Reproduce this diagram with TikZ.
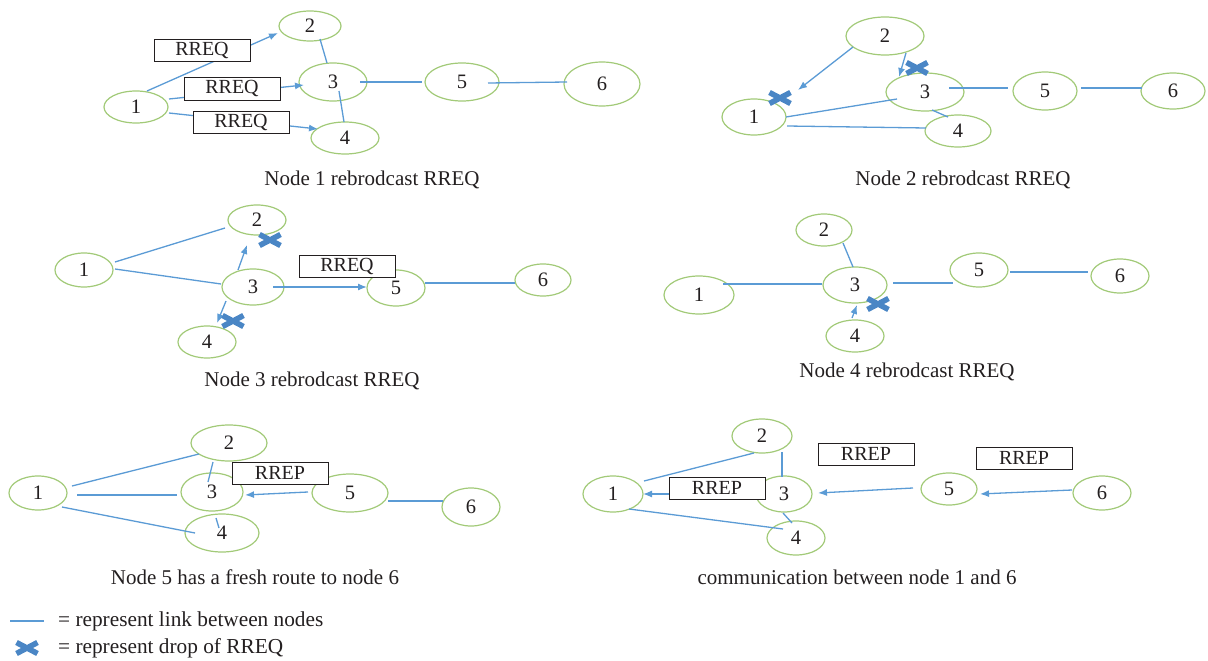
\documentclass[tikz,border=0pt]{standalone}
\usepackage{fontspec}
\setmainfont{Liberation Serif}
\usetikzlibrary{shapes.geometric,arrows.meta,calc}
\definecolor{nodegreen}{HTML}{A2CA78}
\definecolor{linkblue}{HTML}{5B9BD5}
\definecolor{dropblue}{HTML}{4A86C5}
\definecolor{txt}{HTML}{231F20}
\tikzset{
  nd/.style={ellipse, draw=nodegreen, line width=1.2pt, fill=white, inner sep=0pt,
    text=txt, font=\fontsize{20.5}{20.5}\selectfont},
  ln/.style={draw=linkblue, line width=1.3pt},
  arr/.style={ln, -{Latex[length=9pt,width=7pt]}},
  msg/.style={draw=txt, line width=1pt, fill=white, minimum width=96pt, minimum height=22pt,
    inner sep=0pt, text=txt, font=\fontsize{20}{20}\selectfont},
  captxt/.style={text=txt, font=\fontsize{21}{21}\selectfont, inner sep=0pt},
  leg/.style={text=txt, font=\fontsize{21.3}{21.3}\selectfont, inner sep=0pt, anchor=west},
  pics/dropx/.style={code={
    \draw[dropblue, line width=5.5pt] (-10.5,-5.5) -- (10.5,5.5) (-10.5,5.5) -- (10.5,-5.5);}}
}
\begin{document}
\begin{tikzpicture}[x=1pt,y=-1pt]
\useasboundingbox (0,0) rectangle (1208,661);
% ---------------- Panel 1 ----------------
\node[nd, minimum width=64pt, minimum height=32pt] (a1) at (136,107) {1};
\node[nd, minimum width=62pt, minimum height=30pt] (a2) at (310,26) {2};
\node[nd, minimum width=68pt, minimum height=38pt] (a3) at (333,82) {3};
\node[nd, minimum width=68pt, minimum height=32pt] (a4) at (345,138) {4};
\node[nd, minimum width=74pt, minimum height=38pt] (a5) at (462,82) {5};
\node[nd, minimum width=76pt, minimum height=44pt] (a6) at (602,84) {6};
\draw[arr] ($(a1)+(11,-16)$) -- ($(a2)+(-32,7)$);
\draw[arr] ($(a1)+(33,-8)$) -- ($(a3)+(-29,3)$);
\draw[arr] ($(a1)+(33,6)$) -- ($(a4)+(-27,-9)$);
\draw[ln] ($(a2)+(10,13)$) -- ($(a3)+(-6,-19)$);
\draw[ln] ($(a3)+(6,9)$) -- ($(a4)+(-1,-16)$);
\draw[ln] ($(a3)+(27,0)$) -- ($(a5)+(-40,0)$);
\draw[ln] ($(a5)+(26,1)$) -- ($(a6)+(-35,-2)$);
\node[msg] (b11) at (202,51) {RREQ};
\node[msg] (b12) at (232,89) {RREQ};
\node[msg] (b13) at (241,122) {RREQ};
\node[captxt] (c1cap) at (372,180) {Node 1 rebrodcast RREQ};
% ---------------- Panel 2 ----------------
\node[nd, minimum width=64pt, minimum height=36pt] (c1) at (754,117) {1};
\node[nd, minimum width=78pt, minimum height=38pt] (c2) at (885,36) {2};
\node[nd, minimum width=78pt, minimum height=38pt] (c3) at (925,92) {3};
\node[nd, minimum width=66pt, minimum height=32pt] (c4) at (958,131) {4};
\node[nd, minimum width=64pt, minimum height=38pt] (c5) at (1045,91) {5};
\node[nd, minimum width=64pt, minimum height=36pt] (c6) at (1173,91) {6};
\draw[arr] ($(c2)+(-32,11)$) -- ($(c1)+(44,-27)$);
\draw[arr] ($(c2)+(21,17)$) -- ($(c3)+(-26,-15)$);
\draw[ln] ($(c1)+(32,0)$) -- ($(c3)+(-28,7)$);
\draw[ln] ($(c1)+(33,9)$) -- ($(c4)+(-32,-3)$);
\draw[ln] ($(c3)+(7,18)$) -- ($(c4)+(-10,-14)$);
\draw[ln] ($(c3)+(24,-4)$) -- ($(c5)+(-37,-3)$);
\draw[ln] ($(c5)+(36,-3)$) -- ($(c6)+(-31,-3)$);
\pic at (780,98) {dropx};
\pic at (917,68) {dropx};
\node[captxt] (c2cap) at (963,180) {Node 2 rebrodcast RREQ};
% ---------------- Panel 3 ----------------
\node[nd, minimum width=58pt, minimum height=34pt] (d1) at (84,270) {1};
\node[nd, minimum width=58pt, minimum height=30pt] (d2) at (257,220) {2};
\node[nd, minimum width=62pt, minimum height=36pt] (d3) at (253,287) {3};
\node[nd, minimum width=58pt, minimum height=32pt] (d4) at (207,342) {4};
\node[nd, minimum width=58pt, minimum height=36pt] (d5) at (396,288) {5};
\node[nd, minimum width=56pt, minimum height=32pt] (d6) at (543,280) {6};
\draw[ln] ($(d1)+(31,-8)$) -- ($(d2)+(-32,8)$);
\draw[ln] ($(d1)+(31,-1)$) -- ($(d3)+(-32,-3)$);
\draw[arr] ($(d3)+(-15,-17)$) -- ($(d2)+(-10,25)$);
\draw[arr] ($(d3)+(-27,14)$) -- ($(d4)+(10,-19)$);
\draw[arr] ($(d3)+(20,0)$) -- ($(d5)+(-29,-1)$);
\draw[ln] ($(d5)+(29,-5)$) -- ($(d6)+(-28,3)$);
\node[msg] (b31) at (347,266) {RREQ};
\pic at (270,240) {dropx};
\pic at (233,321) {dropx};
\node[captxt] (c3cap) at (312,381) {Node 3 rebrodcast RREQ};
% ---------------- Panel 4 ----------------
\node[nd, minimum width=70pt, minimum height=38pt] (e1) at (699,295) {1};
\node[nd, minimum width=56pt, minimum height=32pt] (e2) at (824,230) {2};
\node[nd, minimum width=64pt, minimum height=36pt] (e3) at (855,285) {3};
\node[nd, minimum width=58pt, minimum height=32pt] (e4) at (855,336) {4};
\node[nd, minimum width=58pt, minimum height=34pt] (e5) at (979,270) {5};
\node[nd, minimum width=58pt, minimum height=34pt] (e6) at (1120,276) {6};
\draw[ln] ($(e1)+(24,-11)$) -- ($(e3)+(-33,-1)$);
\draw[ln] ($(e2)+(19,13)$) -- ($(e3)+(-2,-18)$);
\draw[ln] ($(e3)+(38,-2)$) -- ($(e5)+(-26,13)$);
\draw[ln] ($(e5)+(31,2)$) -- ($(e6)+(-32,-4)$);
\draw[arr] ($(e4)+(-3,-18)$) -- ($(e3)+(2,20)$);
\pic at (878,304) {dropx};
\node[captxt] (c4cap) at (907,372) {Node 4 rebrodcast RREQ};
% ---------------- Panel 5 ----------------
\node[nd, minimum width=58pt, minimum height=34pt] (f1) at (38,493) {1};
\node[nd, minimum width=76pt, minimum height=36pt] (f2) at (229,443) {2};
\node[nd, minimum width=62pt, minimum height=38pt] (f3) at (212,492) {3};
\node[nd, minimum width=74pt, minimum height=38pt] (f4) at (222,533) {4};
\node[nd, minimum width=76pt, minimum height=38pt] (f5) at (350,493) {5};
\node[nd, minimum width=58pt, minimum height=38pt] (f6) at (471,507) {6};
\draw[ln] ($(f1)+(34,-7)$) -- ($(f2)+(-30,11)$);
\draw[ln] ($(f1)+(39,2)$) -- ($(f3)+(-35,3)$);
\draw[ln] ($(f1)+(24,14)$) -- ($(f4)+(-27,0)$);
\draw[ln] ($(f2)+(-16,19)$) -- ($(f3)+(-4,-10)$);
\draw[ln] ($(f4)+(-6,-15)$) -- ($(f4)+(-3,-5)$);
\draw[arr] ($(f5)+(-42,-1)$) -- ($(f3)+(33,3)$);
\draw[ln] ($(f5)+(38,8)$) -- ($(f6)+(-28,-6)$);
\node[msg] (b51) at (280,473) {RREP};
\node[captxt] (c5cap) at (255,577) {Node 5 has a fresh route to node 6};
% ---------------- Panel 6 ----------------
\node[nd, minimum width=60pt, minimum height=36pt] (g1) at (613,494) {1};
\node[nd, minimum width=60pt, minimum height=34pt] (g2) at (762,436) {2};
\node[nd, minimum width=56pt, minimum height=36pt] (g3) at (784,494) {3};
\node[nd, minimum width=58pt, minimum height=34pt] (g4) at (796,538) {4};
\node[nd, minimum width=56pt, minimum height=32pt] (g5) at (949,489) {5};
\node[nd, minimum width=58pt, minimum height=34pt] (g6) at (1102,493) {6};
\draw[ln] ($(g1)+(31,-13)$) -- ($(g2)+(-8,17)$);
\draw[ln] ($(g2)+(20,16)$) -- ($(g3)+(-2,-17)$);
\draw[ln] ($(g1)+(16,15)$) -- ($(g4)+(-13,-9)$);
\draw[ln] ($(g3)+(-1,19)$) -- ($(g4)+(-4,-15)$);
\draw[arr] ($(g3)+(-30,0)$) -- ($(g1)+(30,0)$);
\draw[arr] ($(g5)+(-36,-1)$) -- ($(g3)+(34,-1)$);
\draw[arr] ($(g6)+(-30,-3)$) -- ($(g5)+(31,5)$);
\node[msg] (b61) at (717,488) {RREP};
\node[msg] (b62) at (866,454) {RREP};
\node[msg] (b63) at (1024,458) {RREP};
\node[captxt] (c6cap) at (857,577) {communication between node 1 and 6};
% ---------------- Legend ----------------
\coordinate (lg1) at (10,621);
\coordinate (lg2) at (44,621);
\draw[ln] (lg1) -- (lg2);
\node[leg] (lt1) at (58,621) {= represent link between nodes};
\pic at (27,648) {dropx};
\node[leg] (lt2) at (58,648) {= represent drop of RREQ};
\end{tikzpicture}
\end{document}
